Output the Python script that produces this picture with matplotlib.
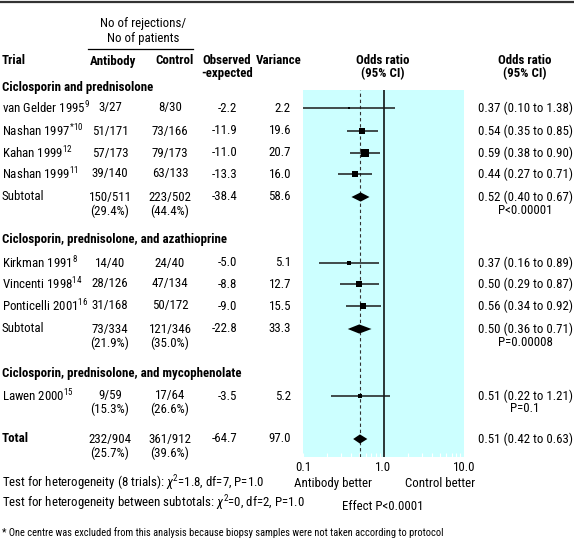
import matplotlib
matplotlib.use("Agg")
import matplotlib.pyplot as plt
import numpy as np

# ---------------- data ----------------
trial_names = ['van Gelder 1995', 'Nashan 1997', 'Kahan 1999', 'Nashan 1999',
               'Kirkman 1991', 'Vincenti 1998', 'Ponticelli 2001', 'Lawen 2000']
trial_refs = ['9', '*10', '12', '11', '8', '14', '16', '15']
antibody = ['3/27', '51/171', '57/173', '39/140', '14/40', '28/126', '31/168', '9/59']
control = ['8/30', '73/166', '79/173', '63/133', '24/40', '47/134', '50/172', '17/64']
obs_exp = [-2.2, -11.9, -11.0, -13.3, -5.0, -8.8, -9.0, -3.5]
variance = [2.2, 19.6, 20.7, 16.0, 5.1, 12.7, 15.5, 5.2]
or_est = [0.37, 0.54, 0.59, 0.44, 0.37, 0.50, 0.56, 0.51]
or_lo = [0.10, 0.35, 0.38, 0.27, 0.16, 0.29, 0.34, 0.22]
or_hi = [1.38, 0.85, 0.90, 0.71, 0.89, 0.87, 0.92, 1.21]

groups = ['Ciclosporin and prednisolone',
          'Ciclosporin, prednisolone, and azathioprine',
          'Ciclosporin, prednisolone, and mycophenolate']

sub_antibody = ['150/511', '73/334']
sub_antibody_pct = ['(29.4%)', '(21.9%)']
sub_control = ['223/502', '121/346']
sub_control_pct = ['(44.4%)', '(35.0%)']
sub_oe = [-38.4, -22.8]
sub_var = [58.6, 33.3]
sub_or = [0.52, 0.50]
sub_lo = [0.40, 0.36]
sub_hi = [0.67, 0.71]
sub_p = ['P<0.00001', 'P=0.00008']

lawen_pct = ['(15.3%)', '(26.6%)']
lawen_p = 'P=0.1'

tot_antibody, tot_antibody_pct = '232/904', '(25.7%)'
tot_control, tot_control_pct = '361/912', '(39.6%)'
tot_oe, tot_var = -64.7, 97.0
tot_or, tot_lo, tot_hi = 0.51, 0.42, 0.63

axis_ticks = [0.1, 1.0, 10.0]
axis_labels = ['0.1', '1.0', '10.0']

# ---------------- style ----------------
FONT = ['Roboto Condensed', 'DejaVu Sans']
plt.rcParams['font.family'] = FONT
plt.rcParams['mathtext.fontset'] = 'custom'
plt.rcParams['mathtext.rm'] = 'Roboto Condensed'
plt.rcParams['mathtext.it'] = 'Roboto Condensed:italic'
plt.rcParams['mathtext.bf'] = 'Roboto Condensed:bold'
FS = 9.3

W, H = 574, 542
fig = plt.figure(figsize=(W / 100, H / 100), dpi=100)
ax = fig.add_axes([0, 0, 1, 1])
ax.set_xlim(0, W)
ax.set_ylim(H, 0)
ax.axis('off')

def txt(x, y, s, ha='left', bold=False, fs=FS, **kw):
    ax.text(x, y, s, ha=ha, va='center', fontsize=fs,
            fontweight='bold' if bold else 'normal', **kw)

# top rule
ax.plot([0, W], [1.5, 1.5], color='#333333', lw=1.6)

# header
txt(143, 24, 'No of rejections/', ha='center')
txt(143, 38.5, 'No of patients', ha='center')
ax.plot([88, 193], [49, 49], color='black', lw=0.9)
hy1, hy2 = 61, 73.5
txt(2, hy1, 'Trial', bold=True)
txt(113, hy1, 'Antibody', ha='center', bold=True)
txt(174, hy1, 'Control', ha='center', bold=True)
txt(227, hy1, 'Observed', ha='center', bold=True)
txt(227, hy2, '-expected', ha='center', bold=True)
txt(279, hy1, 'Variance', ha='center', bold=True)
txt(383, hy1, 'Odds ratio', ha='center', bold=True)
txt(383, hy2, '(95% CI)', ha='center', bold=True)
txt(525, hy1, 'Odds ratio', ha='center', bold=True)
txt(525, hy2, '(95% CI)', ha='center', bold=True)

# layout rows
group_y = [87, 240, 373]
trial_y = [108, 131, 153, 174, 263, 284, 306, 396]
sub_y = [197, 329]
tot_y = 439
line2 = 14

X_NAME, X_AB, X_CT, X_OE, X_VAR, X_OR, X_P = 2, 110, 170, 237, 291, 478, 525

for gy, g in zip(group_y, groups):
    txt(X_NAME, gy, g, bold=True)

for i, y in enumerate(trial_y):
    txt(X_NAME, y, trial_names[i] + '$^{' + trial_refs[i] + '}$')
    txt(X_AB, y, antibody[i], ha='center')
    txt(X_CT, y, control[i], ha='center')
    txt(X_OE, y, f'{obs_exp[i]:.1f}', ha='right')
    txt(X_VAR, y, f'{variance[i]:.1f}', ha='right')
    txt(X_OR, y, f'{or_est[i]:.2f} ({or_lo[i]:.2f} to {or_hi[i]:.2f})')

# Lawen second line
ly = trial_y[-1]
txt(X_AB, ly + line2 - 1, lawen_pct[0], ha='center')
txt(X_CT, ly + line2 - 1, lawen_pct[1], ha='center')
txt(X_P, ly + line2 - 1, lawen_p, ha='center')

for j, y in enumerate(sub_y):
    txt(X_NAME, y, 'Subtotal')
    txt(X_AB, y, sub_antibody[j], ha='center')
    txt(X_AB, y + line2, sub_antibody_pct[j], ha='center')
    txt(X_CT, y, sub_control[j], ha='center')
    txt(X_CT, y + line2, sub_control_pct[j], ha='center')
    txt(X_OE, y, f'{sub_oe[j]:.1f}', ha='right')
    txt(X_VAR, y, f'{sub_var[j]:.1f}', ha='right')
    txt(X_OR, y, f'{sub_or[j]:.2f} ({sub_lo[j]:.2f} to {sub_hi[j]:.2f})')
    txt(X_P, y + line2 - 1, sub_p[j], ha='center')

txt(X_NAME, tot_y, 'Total', bold=True)
txt(X_AB, tot_y, tot_antibody, ha='center')
txt(X_AB, tot_y + line2, tot_antibody_pct, ha='center')
txt(X_CT, tot_y, tot_control, ha='center')
txt(X_CT, tot_y + line2, tot_control_pct, ha='center')
txt(X_OE, tot_y, f'{tot_oe:.1f}', ha='right')
txt(X_VAR, tot_y, f'{tot_var:.1f}', ha='right')
txt(X_OR, tot_y, f'{tot_or:.2f} ({tot_lo:.2f} to {tot_hi:.2f})')

# ---------------- forest panel ----------------
PX0, PX1, PY0, PY1 = 303, 464, 90, 457
fa = fig.add_axes([PX0 / W, 1 - PY1 / H, (PX1 - PX0) / W, (PY1 - PY0) / H])
fa.set_facecolor('#ccffff')
fa.set_xscale('log')
fa.set_xlim(axis_ticks[0], axis_ticks[-1])
fa.set_ylim(PY1, PY0)
for s in fa.spines.values():
    s.set_visible(False)
fa.set_yticks([])
fa.set_xticks(axis_ticks)
fa.set_xticklabels([])
fa.xaxis.set_minor_locator(matplotlib.ticker.LogLocator(base=10, subs=np.arange(2, 10)))
fa.xaxis.set_minor_formatter(matplotlib.ticker.NullFormatter())
fa.tick_params(axis='x', which='both', direction='in', color='white',
               length=3, width=0.8, bottom=True, top=False)

fa.axvline(1.0, color='black', lw=1.1, zorder=2)
fa.axvline(tot_or, color='#333333', lw=0.8, ls=(0, (3, 2.5)), zorder=2)

for i, y in enumerate(trial_y):
    fa.plot([or_lo[i], or_hi[i]], [y, y], color='#1a1a1a', lw=1.1, zorder=3,
            solid_capstyle='butt')
    side = 1.55 * np.sqrt(variance[i])  # px
    fa.plot([or_est[i]], [y], marker='s', color='black', ms=side * 0.72,
            mew=0, zorder=4)

def diamond(y, est, lo, hi, hh=4.6):
    fa.fill([lo, est, hi, est], [y, y - hh, y, y + hh], color='black', zorder=4,
            lw=0)

for j, y in enumerate(sub_y):
    diamond(y, sub_or[j], sub_lo[j], sub_hi[j])
diamond(tot_y, tot_or, tot_lo, tot_hi)

# axis labels below panel (placed via the panel's x scale)
trans = matplotlib.transforms.blended_transform_factory(fa.transData, ax.transData)
for t, lab in zip(axis_ticks, axis_labels):
    ax.text(t, 467.5, lab, transform=trans, ha='center', va='center', fontsize=FS)

txt(294, 483.5, 'Antibody better')
txt(405, 483.5, 'Control better')
txt(383, 507, 'Effect P<0.0001', ha='center')

txt(2, 483.5, r'Test for heterogeneity (8 trials): $\chi^2$=1.8, df=7, P=1.0')
txt(2, 503, r'Test for heterogeneity between subtotals: $\chi^2$=0, df=2, P=1.0')

txt(2, 533, '* One centre was excluded from this analysis because biopsy samples '
            'were not taken according to protocol', fs=7.45)

fig.savefig('out.png', dpi=100)
